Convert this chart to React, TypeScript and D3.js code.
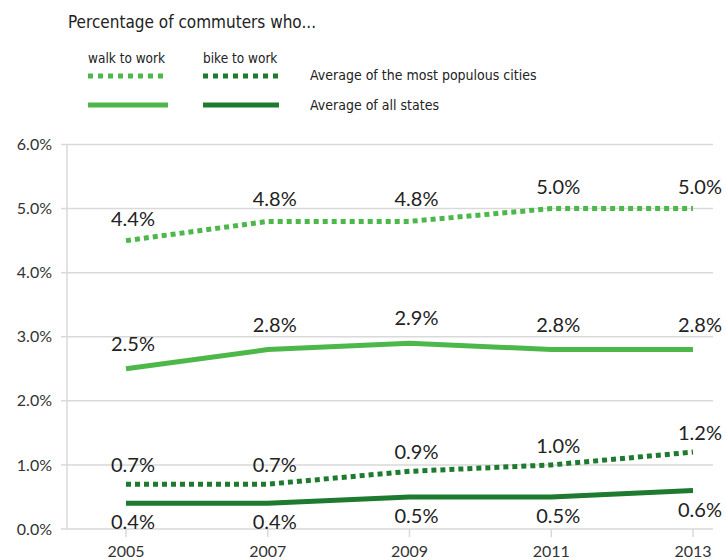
import React from "react";
import * as d3 from "d3";

const years = [2005, 2007, 2009, 2011, 2013];
const walkCities = [4.5, 4.8, 4.8, 5.0, 5.0];
const walkCitiesLabels = ["4.4%", "4.8%", "4.8%", "5.0%", "5.0%"];
const walkStates = [2.5, 2.8, 2.9, 2.8, 2.8];
const walkStatesLabels = ["2.5%", "2.8%", "2.9%", "2.8%", "2.8%"];
const bikeCities = [0.7, 0.7, 0.9, 1.0, 1.2];
const bikeCitiesLabels = ["0.7%", "0.7%", "0.9%", "1.0%", "1.2%"];
const bikeStates = [0.4, 0.4, 0.5, 0.5, 0.6];
const bikeStatesLabels = ["0.4%", "0.4%", "0.5%", "0.5%", "0.6%"];
const yTicks = [0, 1, 2, 3, 4, 5, 6];

const LIGHT = "#4cb84a";
const DARK = "#1d7a2f";

export default function App() {
  const x = d3.scaleLinear().domain([2005, 2013]).range([126, 693]);
  const y = d3.scaleLinear().domain([0, 6]).range([529, 144.5]);
  const line = d3
    .line<[number, number]>()
    .x((d) => x(d[0]))
    .y((d) => y(d[1]));
  const pts = (vals: number[]) => years.map((yr, i) => [yr, vals[i]] as [number, number]);

  const series = [
    { vals: walkCities, labels: walkCitiesLabels, color: LIGHT, dash: "5,4", dy: -15 },
    { vals: walkStates, labels: walkStatesLabels, color: LIGHT, dash: null, dy: -18 },
    { vals: bikeCities, labels: bikeCitiesLabels, color: DARK, dash: "5,4", dy: -12 },
    { vals: bikeStates, labels: bikeStatesLabels, color: DARK, dash: null, dy: 26 },
  ];

  const labelFont = "Lato, 'Open Sans', sans-serif";
  const condFont = "'DejaVu Sans Condensed', 'Liberation Sans Narrow', sans-serif";

  return (
    <svg
      width={726}
      height={560}
      style={{ position: "absolute", left: 0, top: 0, background: "#fff" }}
    >
      <text x={68} y={28} fontFamily={condFont} fontSize={17} fill="#222">
        Percentage of commuters who...
      </text>
      <text x={88} y={63} fontFamily={condFont} fontSize={13.5} fill="#222">
        walk to work
      </text>
      <text x={203} y={63} fontFamily={condFont} fontSize={13.5} fill="#222">
        bike to work
      </text>
      <line x1={88} x2={168} y1={76} y2={76} stroke={LIGHT} strokeWidth={5} strokeDasharray="5,5" />
      <line x1={203} x2={279} y1={76} y2={76} stroke={DARK} strokeWidth={5} strokeDasharray="5,5" />
      <line x1={88} x2={168} y1={105} y2={105} stroke={LIGHT} strokeWidth={5} />
      <line x1={203} x2={279} y1={105} y2={105} stroke={DARK} strokeWidth={5} />
      <text x={310} y={80} fontFamily={condFont} fontSize={14} fill="#222">
        Average of the most populous cities
      </text>
      <text x={310} y={110} fontFamily={condFont} fontSize={14} fill="#222">
        Average of all states
      </text>

      {yTicks.map((t) => (
        <g key={t}>
          <line x1={67} x2={713} y1={y(t)} y2={y(t)} stroke="#d9d9d9" strokeWidth={1.5} />
          <line x1={61} x2={67} y1={y(t)} y2={y(t)} stroke="#d9d9d9" strokeWidth={1.5} />
          <text
            x={52}
            y={y(t)}
            dy="0.35em"
            textAnchor="end"
            fontFamily={labelFont}
            fontSize={16}
            fill="#333"
          >
            {d3.format(".1f")(t) + "%"}
          </text>
        </g>
      ))}
      <line x1={67} x2={67} y1={y(6)} y2={y(0)} stroke="#d9d9d9" strokeWidth={1.5} />
      {years.map((yr) => (
        <g key={yr}>
          <line x1={x(yr)} x2={x(yr)} y1={y(0)} y2={y(0) + 8} stroke="#d9d9d9" strokeWidth={1.5} />
          <text
            x={x(yr)}
            y={557}
            textAnchor="middle"
            fontFamily={labelFont}
            fontSize={16}
            fill="#333"
          >
            {yr}
          </text>
        </g>
      ))}

      {series.map((s, si) => (
        <g key={si}>
          <path
            d={line(pts(s.vals)) || ""}
            fill="none"
            stroke={s.color}
            strokeWidth={5}
            strokeDasharray={s.dash || undefined}
          />
          {s.labels.map((lab, i) => (
            <text
              key={i}
              x={x(years[i]) + 7}
              y={y(s.vals[i]) + s.dy}
              textAnchor="middle"
              fontFamily={labelFont}
              fontSize={20}
              fill="#222"
            >
              {lab}
            </text>
          ))}
        </g>
      ))}
    </svg>
  );
}
